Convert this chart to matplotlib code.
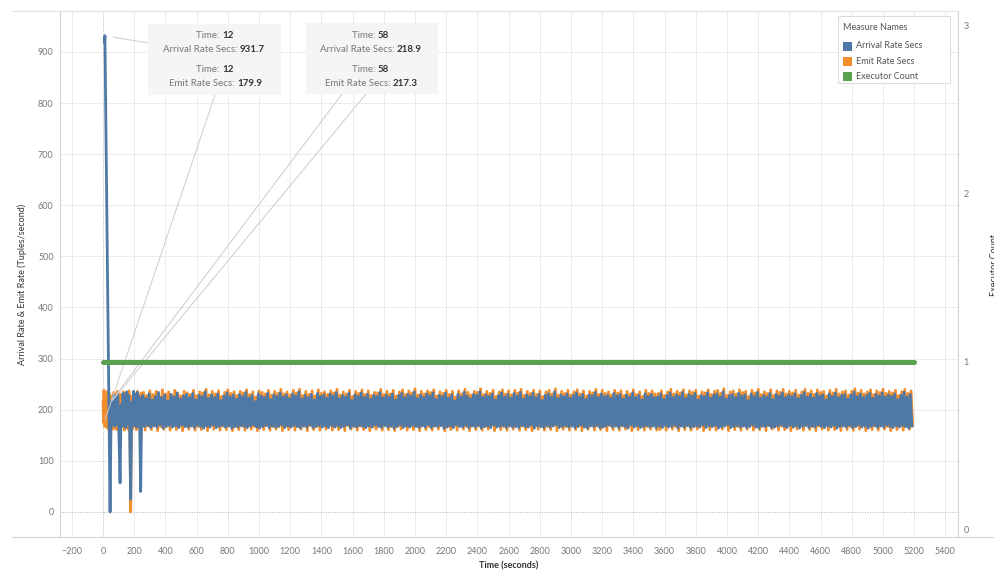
import numpy as np
import matplotlib
matplotlib.use('Agg')
import matplotlib.pyplot as plt
from matplotlib.patches import Rectangle
from matplotlib.lines import Line2D

plt.rcParams['font.family'] = ['Lato', 'DejaVu Sans']

# ---------------- data ----------------
# early part (hand-read)
arrival_early_t = [9, 12, 45, 52, 58, 64, 70, 76, 82, 88, 94, 100, 109, 116, 122, 128, 134,
                   140, 146, 152, 158, 164, 170, 177, 184, 190, 196, 202, 208, 214, 220, 226,
                   232, 241, 248]
arrival_early_v = [918, 931.7, 0, 205, 218.9, 170, 228, 168, 225, 172, 230, 175, 57, 210,
                   168, 232, 170, 226, 165, 235, 172, 228, 175, 25, 215, 168, 236, 170, 230,
                   166, 234, 172, 225, 40, 210]
emit_early_t = [0, 3, 6, 9, 12, 18, 24, 30, 36, 42, 48, 52, 58, 64, 70, 76, 82, 88, 94, 100,
                106, 112, 118, 124, 130, 136, 142, 148, 154, 160, 166, 172, 177, 184, 190,
                196, 202, 208, 214, 220, 226, 232, 238, 244, 250]
emit_early_v = [215, 175, 238, 168, 179.9, 232, 165, 236, 162, 230, 170, 226, 217.3, 162, 234,
                166, 229, 161, 236, 168, 231, 163, 228, 167, 235, 160, 232, 169, 230, 162, 237,
                170, 0, 226, 163, 234, 168, 231, 161, 236, 166, 228, 164, 233, 169]

# steady part: alternating peaks / troughs every 10 s
arrival_start, emit_start, half_step = 255, 260, 10
arrival_peaks = [
    228, 222, 231, 219, 226, 234, 224, 229, 217, 230, 225, 233, 221, 227, 230,
    224, 232, 219, 228, 226, 235, 222, 229, 224, 231, 218, 227, 233, 225, 229,
    221, 230, 226, 234, 223, 228, 216, 231, 227, 224, 232, 220, 229, 226, 233,
    225, 229, 222, 231, 227, 235, 221, 228, 224, 230, 219, 232, 226, 229, 223,
    231, 227, 234, 222, 228, 225, 232, 218, 229, 226, 233, 224, 230, 221, 228,
    226, 234, 223, 229, 225, 231, 219, 228, 232, 224, 230, 227, 235, 222, 229,
    224, 231, 227, 233, 220, 228, 226, 232, 223, 229, 217, 230, 225, 234, 227,
    222, 230, 228, 235, 224, 229, 226, 231, 219, 228, 233, 225, 230, 223, 232,
    227, 234, 221, 229, 226, 232, 224, 230, 218, 228, 231, 225, 235, 222, 229,
    226, 231, 223, 228, 233, 225, 230, 220, 229, 227, 234, 224, 231, 226, 228,
    223, 232, 227, 230, 221, 229, 225, 233, 224, 228, 219, 231, 226, 230, 224,
    225, 231, 220, 228, 233, 224, 229, 226, 234, 222, 230, 227, 232, 219, 228,
    226, 233, 223, 229, 231, 225, 235, 221, 228, 230, 224, 232, 227, 229, 218,
    231, 226, 234, 223, 228, 225, 232, 220, 230, 227, 233, 224, 229, 226, 231,
    222, 228, 234, 225, 230, 223, 232, 227, 229, 219, 231, 226, 233, 224, 228,
    230, 221, 229, 235, 226, 231, 224, 228, 232, 222, 230, 227, 233, 225, 229,
    226, 231, 220, 228, 234, 225, 230]
arrival_troughs = [
    167, 169, 165, 168, 166, 170, 164, 167, 169, 166, 168, 165, 170, 167, 166,
    168, 165, 169, 167, 164, 168, 166, 170, 165, 167, 169, 166, 168, 164, 167,
    166, 169, 167, 165, 168, 170, 166, 164, 167, 169, 165, 168, 166, 167, 170,
    165, 168, 166, 169, 167, 164, 168, 166, 170, 165, 167, 169, 166, 168, 165,
    169, 166, 168, 165, 167, 170, 164, 168, 166, 169, 167, 165, 168, 166, 170,
    167, 165, 169, 166, 168, 164, 167, 170, 165, 168, 166, 169, 167, 165, 168,
    166, 170, 165, 168, 167, 169, 164, 166, 168, 165, 170, 167, 166, 169, 165,
    168, 166, 169, 164, 167, 168, 165, 170, 166, 167, 169, 165, 168, 166, 167,
    165, 169, 167, 166, 170, 164, 168, 167, 165, 169, 166, 168, 170, 165, 167,
    169, 166, 168, 165, 167, 170, 166, 164, 168, 167, 169, 165, 166, 168, 170,
    166, 168, 165, 169, 167, 164, 170, 166, 168, 165, 167, 169, 166, 168, 165,
    168, 165, 169, 166, 167, 170, 164, 168, 166, 169, 165, 167, 168, 166, 170,
    165, 168, 167, 169, 164, 166, 168, 170, 165, 167, 169, 166, 168, 165, 167,
    170, 166, 164, 168, 167, 169, 165, 166, 168, 170, 167, 165, 169, 166, 168,
    164, 167, 169, 165, 168, 166, 170, 167, 165, 168, 166, 169, 164, 167, 168,
    166, 169, 165, 167, 170, 166, 168, 164, 167, 169, 165, 168, 166, 170, 167,
    165, 168, 166, 169, 167, 164, 168]
emit_peaks = [
    234, 228, 237, 230, 236, 226, 239, 231, 235, 229, 238, 232, 227, 236, 233,
    230, 238, 228, 235, 233, 240, 229, 236, 231, 237, 226, 234, 239, 232, 235,
    228, 236, 233, 239, 230, 235, 225, 237, 234, 231, 238, 229, 236, 232, 240,
    231, 235, 229, 238, 233, 240, 228, 236, 230, 237, 227, 239, 232, 235, 230,
    237, 233, 240, 229, 235, 231, 238, 226, 236, 232, 239, 230, 237, 228, 234,
    233, 240, 230, 236, 231, 238, 227, 235, 239, 230, 237, 233, 241, 229, 236,
    231, 237, 234, 239, 227, 235, 232, 238, 230, 236, 225, 237, 231, 240, 234,
    229, 236, 234, 241, 230, 236, 232, 238, 226, 235, 239, 231, 237, 229, 238,
    233, 240, 228, 236, 232, 238, 230, 237, 226, 235, 238, 231, 241, 229, 236,
    232, 238, 229, 235, 239, 231, 237, 227, 236, 233, 240, 230, 238, 232, 235,
    229, 238, 233, 237, 228, 236, 231, 239, 230, 235, 226, 238, 232, 237, 231,
    232, 237, 228, 235, 240, 231, 236, 233, 239, 229, 237, 234, 238, 227, 235,
    233, 239, 230, 236, 238, 232, 241, 228, 235, 237, 231, 239, 234, 236, 226,
    238, 233, 240, 230, 235, 232, 239, 228, 237, 234, 240, 231, 236, 233, 238,
    229, 235, 240, 232, 237, 230, 239, 234, 236, 227, 238, 233, 240, 231, 235,
    237, 229, 236, 241, 233, 238, 231, 235, 239, 230, 237, 234, 240, 232, 236,
    233, 238, 228, 235, 240, 232, 237]
emit_troughs = [
    160, 168, 161, 169, 159, 167, 162, 168, 160, 169, 161, 167, 159, 168, 162,
    169, 160, 167, 161, 168, 159, 169, 162, 167, 160, 168, 161, 169, 159, 167,
    161, 168, 160, 169, 162, 167, 159, 168, 161, 169, 160, 167, 162, 168, 159,
    168, 161, 169, 160, 167, 162, 168, 159, 169, 161, 167, 160, 168, 162, 169,
    160, 167, 161, 168, 159, 169, 162, 167, 160, 168, 161, 169, 159, 167, 162,
    168, 160, 169, 161, 167, 159, 168, 162, 169, 160, 167, 161, 168, 159, 169,
    161, 167, 160, 168, 162, 169, 159, 167, 161, 168, 160, 169, 162, 167, 159,
    169, 161, 168, 160, 167, 162, 169, 159, 168, 161, 167, 160, 169, 162, 168,
    160, 168, 161, 167, 159, 169, 162, 168, 160, 167, 161, 169, 159, 168, 162,
    167, 160, 169, 161, 168, 159, 167, 162, 169, 160, 168, 161, 167, 159, 169,
    161, 169, 160, 168, 162, 167, 159, 169, 161, 168, 160, 167, 162, 169, 160,
    161, 168, 160, 169, 162, 167, 159, 168, 161, 169, 160, 167, 162, 168, 159,
    169, 161, 168, 160, 167, 162, 169, 159, 168, 161, 167, 160, 169, 162, 168,
    160, 167, 161, 168, 159, 169, 162, 167, 160, 168, 161, 169, 159, 167, 162,
    168, 160, 169, 161, 167, 159, 168, 162, 169, 160, 167, 161, 168, 159, 169,
    161, 167, 160, 168, 162, 169, 159, 167, 161, 168, 160, 169, 162, 167, 159,
    169, 161, 168, 160, 167, 162, 169]

executor_t = [0, 5200]
executor_v = [1, 1]

x_ticks = list(range(-200, 5401, 200))
y_ticks = list(range(0, 901, 100))
y2_ticks = [0, 1, 2, 3]

legend_names = ['Arrival Rate Secs', 'Emit Rate Secs', 'Executor Count']
colors = ['#4e79a7', '#f28e2b', '#59a14f']


def interleave(start, peaks, troughs):
    vals = np.empty(2 * len(peaks))
    vals[0::2] = peaks
    vals[1::2] = troughs
    t = start + half_step * np.arange(len(vals))
    return t, vals

at, av = interleave(arrival_start, arrival_peaks, arrival_troughs)
et, ev = interleave(emit_start, emit_peaks, emit_troughs)
arrival_t = np.concatenate([arrival_early_t, at])
arrival_v = np.concatenate([arrival_early_v, av])
emit_t = np.concatenate([emit_early_t, et])
emit_v = np.concatenate([emit_early_v, ev])

# ---------------- figure ----------------
W, H = 994, 574
fig = plt.figure(figsize=(W / 100, H / 100), dpi=100)
def fx(p): return p / W
def fy(p): return 1 - p / H

ax = fig.add_axes([fx(60), fy(537), fx(958) - fx(60), fy(11) - fy(537)])
ax2 = ax.twinx()

ax.set_xlim(-276, 5481)
ax.set_ylim(-49, 980)
ax2.set_ylim(-0.042, 3.089)

grid_c = '#ebebeb'
for xt in x_ticks:
    if xt != 0:
        ax.axvline(xt, color=grid_c, lw=0.7, zorder=0)
for yt in y_ticks:
    if yt != 0:
        ax.axhline(yt, color=grid_c, lw=0.7, zorder=0)
ax.axvline(0, color='#b5b5b5', lw=0.7, ls=(0, (1, 1.5)), zorder=0.5)
ax.axhline(0, color='#b5b5b5', lw=0.7, ls=(0, (1, 1.5)), zorder=0.5)

ax.plot(emit_t, emit_v, color=colors[1], lw=2.0, zorder=2)
ax.plot(arrival_t, arrival_v, color=colors[0], lw=2.0, zorder=3)
ax2.plot(executor_t, executor_v, color=colors[2], lw=3.6, solid_capstyle='round', zorder=4)

tick_c = '#777777'
ax.set_xticks(x_ticks)
ax.set_yticks(y_ticks)
ax.tick_params(length=0, labelsize=6.5, labelcolor=tick_c, pad=4.5)
ax.tick_params(axis='x', pad=7)
ax2.set_yticks(y2_ticks)
ax2.tick_params(length=0, labelsize=6.5, labelcolor=tick_c, pad=4)

for s in ['top', 'bottom']:
    ax.spines[s].set_visible(False)
    ax2.spines[s].set_visible(False)
ax.spines['right'].set_visible(False)
ax2.spines['left'].set_visible(False)
ax.spines['left'].set_color('#d4d4d4')
ax2.spines['right'].set_color('#d4d4d4')
ax.spines['left'].set_linewidth(0.8)
ax2.spines['right'].set_linewidth(0.8)

fig.add_artist(Line2D([fx(12), fx(994)], [fy(537), fy(537)], color='#d4d4d4', lw=0.8))
fig.add_artist(Line2D([fx(12), fx(958)], [fy(11), fy(11)], color='#e2e2e2', lw=0.8))

fig.text(fx(22), fy(284), 'Arrival Rate & Emit Rate (Tuples/second)', rotation=90,
         ha='center', va='center', fontsize=6.5, color='#333333')
fig.text(fx(509), fy(566), 'Time (seconds)', ha='center', va='center', fontsize=6.5,
         color='#333333', fontweight='bold')
fig.text(fx(990), fy(265), 'Executor Count', rotation=90, ha='left', va='center',
         fontsize=6.5, color='#333333')

# legend
fig.add_artist(Rectangle((fx(838), fy(83)), fx(950) - fx(838), fy(16) - fy(83),
                         transform=fig.transFigure, facecolor='white', edgecolor='#dddddd',
                         lw=0.8, zorder=5))
fig.text(fx(843), fy(28), 'Measure Names', ha='left', va='center', fontsize=6.5,
         color='#555555', zorder=6)
for i, (name, c) in enumerate(zip(legend_names, colors)):
    yc = 46 + i * 15.2
    fig.add_artist(Rectangle((fx(843), fy(yc + 4.5)), fx(9), fy(0) - fy(9),
                             transform=fig.transFigure, facecolor=c, edgecolor='none', zorder=6))
    fig.text(fx(856), fy(yc), name, ha='left', va='center', fontsize=6.5,
             color='#555555', zorder=6)

# tooltip annotations
box_c = '#f5f5f5'
for (x0, x1, y0, y1) in [(148, 281, 24, 95), (306, 438, 23, 94)]:
    fig.add_artist(Rectangle((fx(x0), fy(y1)), fx(x1) - fx(x0), fy(y0) - fy(y1),
                             transform=fig.transFigure, facecolor=box_c, edgecolor='none',
                             zorder=5))

tips = [
    (222, 36, 'Time: ', '12'), (240, 49, 'Arrival Rate Secs: ', '931.7'),
    (222, 69, 'Time: ', '12'), (237, 83, 'Emit Rate Secs: ', '179.9'),
    (378, 36, 'Time: ', '58'), (397, 49, 'Arrival Rate Secs: ', '218.9'),
    (378, 69, 'Time: ', '58'), (393, 83, 'Emit Rate Secs: ', '217.3'),
]
for xs, yc, lab, val in tips:
    fig.text(fx(xs), fy(yc), lab, ha='right', va='center', fontsize=7, color='#777777', zorder=6)
    fig.text(fx(xs), fy(yc), val, ha='left', va='center', fontsize=7, color='#333333',
             fontweight='bold', zorder=6)

leaders = [((12, 931.7), (148, 43), 6), ((12, 179.9), (215, 95), 0),
           ((58, 218.9), (342, 94), 0), ((58, 217.3), (366, 94), 0)]
for xy, (px, py), shr in leaders:
    ax.annotate('', xy=xy, xycoords='data', xytext=(fx(px), fy(py)),
                textcoords='figure fraction',
                arrowprops=dict(arrowstyle='-', color='#cccccc', lw=0.7,
                                shrinkA=0, shrinkB=shr), zorder=4)

fig.savefig('out.png', dpi=100)
